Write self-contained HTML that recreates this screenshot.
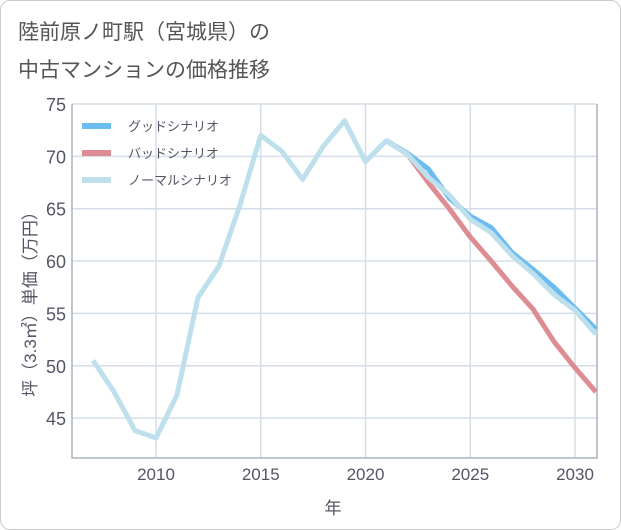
<!DOCTYPE html>
<html><head><meta charset="utf-8"><style>
body{margin:0;background:#fff;font-family:"Liberation Sans","Noto Sans CJK JP",sans-serif;}
#card{position:absolute;left:0;top:0;width:619px;height:528px;border:1px solid #ccc;border-radius:10px;background:#fff;}
.t{position:absolute;left:18px;font-size:21px;color:#555;}
</style></head><body>
<div id="card"></div>
<div class="t" style="top:16px">陸前原ノ町駅（宮城県）の</div>
<div class="t" style="top:54px">中古マンションの価格推移</div>
<svg id="c" width="621" height="530" style="position:absolute;left:0;top:0"></svg>
<script>
const years=[2007,2008,2009,2010,2011,2012,2013,2014,2015,2016,2017,2018,2019,2020,2021,2022,2023,2024,2025,2026,2027,2028,2029,2030,2031];
const normal=[50.5,47.5,43.8,43.1,47.2,56.5,59.5,65.3,72.0,70.5,67.8,71.0,73.4,69.5,71.5,70.2,68.0,66.3,64.0,62.7,60.5,58.8,56.8,55.3,53.0];
const goodYears=[2021,2022,2023,2024,2025,2026,2027,2028,2029,2030,2031];
const good=[71.5,70.3,68.8,66.0,64.3,63.2,60.8,59.2,57.5,55.5,53.5];
const bad=[71.5,70.2,67.5,65.0,62.3,60.0,57.6,55.4,52.3,49.8,47.5];
const xTicks=[2010,2015,2020,2025,2030];
const yTicks=[45,50,55,60,65,70,75];
const L=72,R=597,T=104,B=458;
const x=v=>156+(v-2010)*20.95;
const y=v=>104+(75-v)*10.47;
const s=document.getElementById('c'),NS='http://www.w3.org/2000/svg';
function mk(t,a,p){const e=document.createElementNS(NS,t);for(const k in a)e.setAttribute(k,a[k]);(p||s).appendChild(e);return e;}
for(const v of yTicks){const l=mk('line',{x1:L,x2:R,y1:y(v),y2:y(v),stroke:'#d5dee8','stroke-width':1.5});


const t=mk('text',{x:L-6,y:y(v)+7,'text-anchor':'end','font-size':18,fill:'#556'});t.textContent=v;

}
for(const v of xTicks){const l=mk('line',{x1:x(v),x2:x(v),y1:T,y2:B,stroke:'#d5dee8','stroke-width':1.5});


const t=mk('text',{x:x(v),y:B+22,'text-anchor':'middle','font-size':17,fill:'#556'});t.textContent=v;

}
const ax=mk('path',{d:`M${L} ${T}V${B}H${R}V${T}`,fill:'none',stroke:'#a9b4c0','stroke-width':1.5});


function line(xs,vs,c,n){const p=mk('polyline',{points:xs.map((yr,i)=>x(yr)+','+y(vs[i])).join(' '),fill:'none',stroke:c,'stroke-width':5,'stroke-linejoin':'round'});

}
line(goodYears,good,'#6bbcf0','good-scenario-line');
line(goodYears,bad,'#de8c93','bad-scenario-line');
line(years,normal,'#bde0ec','normal-scenario-line');
const leg=[['グッドシナリオ','#6bbcf0'],['バッドシナリオ','#de8c93'],['ノーマルシナリオ','#bde0ec']];
leg.forEach((e,i)=>{const yy=126+i*27;
const r=mk('rect',{x:82,y:yy-3,width:29,height:6,fill:e[1]});


const t=mk('text',{x:128,y:yy+5,'font-size':13,fill:'#556'});t.textContent=e[0];

});
const xt=mk('text',{x:333,y:514,'text-anchor':'middle','font-size':17,fill:'#556'});xt.textContent='年';


const yt=mk('text',{x:0,y:0,'text-anchor':'middle','font-size':17,fill:'#556',transform:'translate(36,300) rotate(-90)'});yt.textContent='坪（3.3㎡）単価（万円）';


</script>
</body></html>
